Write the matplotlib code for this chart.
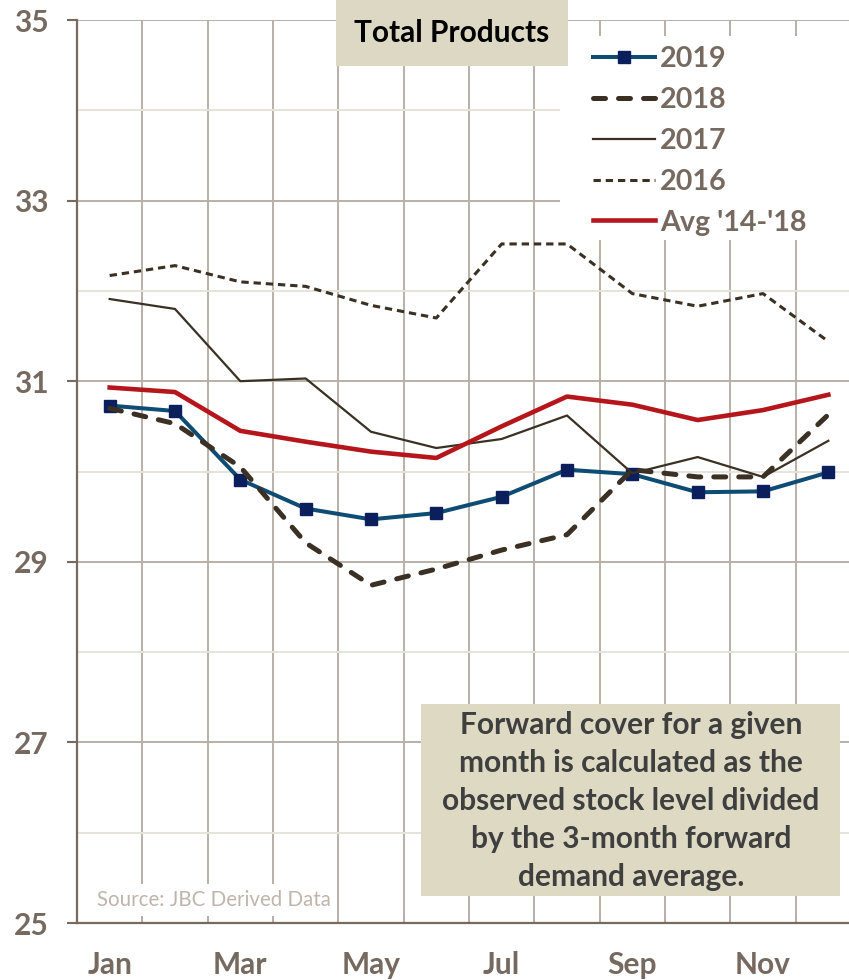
import matplotlib
matplotlib.use("Agg")
import matplotlib.pyplot as plt
from matplotlib.patches import Rectangle
from matplotlib.ticker import FixedLocator

plt.rcParams['font.family'] = ['Lato', 'DejaVu Sans']

# Data
months = ['Jan', 'Feb', 'Mar', 'Apr', 'May', 'Jun', 'Jul', 'Aug', 'Sep', 'Oct', 'Nov', 'Dec']
y2019 = [30.73, 30.67, 29.91, 29.59, 29.47, 29.54, 29.72, 30.02, 29.97, 29.77, 29.78, 29.99]
y2018 = [30.70, 30.53, 30.05, 29.21, 28.74, 28.92, 29.13, 29.30, 30.02, 29.94, 29.94, 30.63]
y2017 = [31.91, 31.80, 31.00, 31.03, 30.44, 30.26, 30.36, 30.62, 29.98, 30.16, 29.94, 30.34]
y2016 = [32.17, 32.28, 32.10, 32.05, 31.84, 31.70, 32.52, 32.52, 31.97, 31.83, 31.97, 31.44]
yavg = [30.93, 30.88, 30.45, 30.33, 30.22, 30.15, 30.50, 30.83, 30.74, 30.57, 30.68, 30.85]
yticks = [25, 27, 29, 31, 33, 35]

title = 'Total Products'
note = ('Forward cover for a given\nmonth is calculated as the\nobserved stock level divided\n'
        'by the 3-month forward\ndemand average.')
source = 'Source: JBC Derived Data'

W, H = 849, 980
fig = plt.figure(figsize=(W / 100, H / 100), dpi=100)
# plot area runs past the right edge of the picture (cropped like the original)
ax = fig.add_axes([77 / W, (H - 923) / H, (861 - 77) / W, (923 - 20) / H])

x = list(range(len(months)))
grey_txt = '#76695F'
grid_c = '#B9AFA6'
dark = '#3A3024'

ax.plot(x, y2019, color='#0E4C74', lw=2.9, marker='s', ms=8.5, mfc='#0B1F5C', mec='#0B1F5C',
        label='2019', zorder=3)
ax.plot(x, y2018, color=dark, lw=3.6, dashes=(2.4, 2.6), dash_capstyle='round', label='2018', zorder=4)
ax.plot(x, y2017, color=dark, lw=1.6, label='2017', zorder=5)
ax.plot(x, y2016, color=dark, lw=2.2, dashes=(2.4, 1.6), label='2016', zorder=6)
ax.plot(x, yavg, color='#B5161B', lw=3.3, label="Avg '14-'18", zorder=7)

ax.set_xlim(-0.5, 11.5)
ax.set_ylim(25, 35)
ax.yaxis.set_major_locator(FixedLocator(yticks))
ax.yaxis.set_minor_locator(FixedLocator([t + 1 for t in yticks[:-1]]))
ax.xaxis.set_major_locator(FixedLocator(x[::2]))
ax.set_xticklabels(months[::2])
ax.xaxis.set_minor_locator(FixedLocator([i + 0.5 for i in range(11)]))

ax.grid(axis='y', which='major', color=grid_c, lw=1.4, zorder=0)
ax.grid(axis='y', which='minor', color='#E6E2DC', lw=1.4, zorder=0)
ax.grid(axis='x', which='minor', color=grid_c, lw=1.4, zorder=0)
ax.set_axisbelow(True)

ax.tick_params(axis='y', which='major', direction='out', length=7, width=1.5, color=grey_txt,
               labelsize=21.5, labelcolor=grey_txt, pad=13.3)
ax.tick_params(axis='y', which='minor', length=0)
ax.tick_params(axis='x', which='major', length=0, labelsize=21.5, labelcolor=grey_txt, pad=20)
ax.tick_params(axis='x', which='minor', direction='in', length=5, width=1.4, color=grid_c)
for lab in ax.get_xticklabels() + ax.get_yticklabels():
    lab.set_fontweight('bold')

for s in ['top', 'right']:
    ax.spines[s].set_visible(False)
for s in ['left', 'bottom']:
    ax.spines[s].set_color(grey_txt)
    ax.spines[s].set_linewidth(1.6)

# white area behind the legend
ax.add_patch(Rectangle((560 / W, 1 - 240 / H), (W - 560) / W, (240 - 36) / H, transform=fig.transFigure,
                       facecolor='white', edgecolor='none', zorder=2))
leg = ax.legend(loc='upper left', bbox_to_anchor=(593 / W, 1 - 46 / H), bbox_transform=fig.transFigure,
                frameon=False, handlelength=2.15, handletextpad=0.2,
                labelspacing=0.52, borderpad=0, borderaxespad=0,
                prop={'weight': 'bold', 'size': 20.6})
leg.set_zorder(8)
for t in leg.get_texts():
    t.set_color(grey_txt)

# title box
fig.patches.append(Rectangle((336 / W, 1 - 66 / H), (568 - 336) / W, 66 / H, transform=fig.transFigure,
                             facecolor='#DDD8C4', edgecolor='none', zorder=10))
fig.text(452 / W, 1 - 33 / H, title, ha='center', va='center', fontsize=21.5, fontweight='bold',
         color='black', zorder=11)

# note box
fig.patches.append(Rectangle((421 / W, 1 - 896 / H), (840 - 421) / W, (896 - 704) / H,
                             transform=fig.transFigure, facecolor='#DDD9C3', edgecolor='none', zorder=10))
fig.text(631 / W, 1 - 801 / H, note, ha='center', va='center', fontsize=21.5, fontweight='bold',
         color='#3F3F3F', linespacing=1.44, zorder=11)

# source label
fig.text(97 / W, 1 - 900 / H, source, ha='left', va='center', fontsize=14.8, color='#BFB5AC', zorder=11,
         bbox=dict(facecolor='white', edgecolor='none', pad=4))

fig.savefig('out.png', dpi=100)
